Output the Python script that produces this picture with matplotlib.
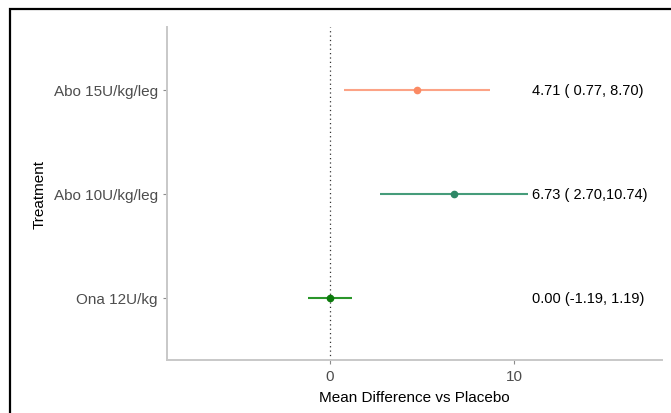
import matplotlib.pyplot as plt
from matplotlib.patches import Rectangle

plt.rcParams['font.family'] = ['Liberation Sans', 'DejaVu Sans']

# Data (top to bottom)
treatments = ['Abo 15U/kg/leg', 'Abo 10U/kg/leg', 'Ona 12U/kg']
means = [4.71, 6.73, 0.00]
lower = [0.77, 2.70, -1.19]
upper = [8.70, 10.74, 1.19]
labels = ['4.71 ( 0.77, 8.70)', '6.73 ( 2.70,10.74)', '0.00 (-1.19, 1.19)']
line_colors = ['#FCA386', '#469C7A', '#2A962A']
point_colors = ['#FB8A63', '#2E8766', '#0B7A0B']
xticks = [0, 10]

fig = plt.figure(figsize=(6.71, 4.14), dpi=100)
ax = fig.add_axes([0.2489, 0.128, 0.9866 - 0.2489, 0.932 - 0.128])

ypos = [3, 2, 1]
for y, m, lo, hi, lc, pc in zip(ypos, means, lower, upper, line_colors, point_colors):
    ax.plot([lo, hi], [y, y], color=lc, lw=1.5, solid_capstyle='butt', zorder=2)
    ax.plot([m], [y], 'o', color=pc, ms=4.5, zorder=3)

for y, lab in zip(ypos, labels):
    ax.text(11.0, y, lab, ha='left', va='center', fontsize=10.5, color='black')

ax.axvline(0, color='#333333', lw=0.9, linestyle=(0, (1, 2.5)), zorder=1)

ax.set_xlim(-8.86, 18.05)
ax.set_ylim(0.4, 3.6)
ax.set_xticks(xticks)
ax.set_yticks(ypos)
ax.set_yticklabels(treatments)
ax.tick_params(axis='both', colors='#8C8C8C', labelcolor='#4D4D4D', labelsize=11, length=3, width=0.8)

for s in ['top', 'right']:
    ax.spines[s].set_visible(False)
for s in ['left', 'bottom']:
    ax.spines[s].set_color('#C8C8C8')
    ax.spines[s].set_linewidth(1.4)

ax.set_xlabel('Mean Difference vs Placebo', fontsize=11, color='black', labelpad=5)
ax.set_ylabel('Treatment', fontsize=11, color='black', labelpad=5)

# black frame around the figure (only top and left edges visible)
fig.patches.append(Rectangle((10 / 671, -0.1), 1.2, 1 - 10 / 414 + 0.1,
                             transform=fig.transFigure, fill=False,
                             edgecolor='black', lw=1.6))

fig.savefig('out.png', dpi=100)
